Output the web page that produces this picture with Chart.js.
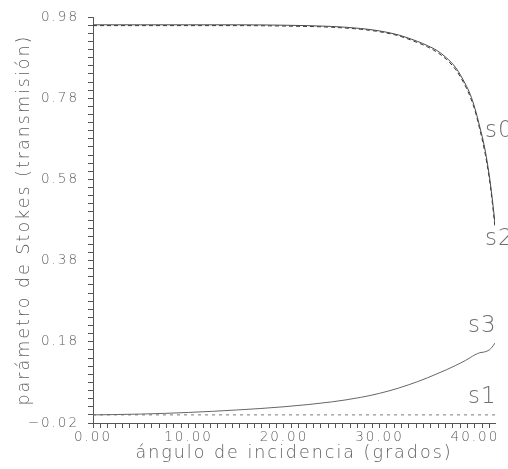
<!DOCTYPE html>
<html>
<head>
<meta charset="utf-8">
<script src="https://cdn.jsdelivr.net/npm/chart.js@4.4.1/dist/chart.umd.min.js"></script>
<style>
  html, body { margin: 0; padding: 0; background: #fff; }
  #wrap { width: 508px; height: 469px; }
</style>
</head>
<body>
<div id="wrap"><canvas id="stokesChart"></canvas></div>
<script>
// ángulo de incidencia (grados)
const angles = [0, 5, 10, 15, 20, 25, 28, 30, 32, 34, 35, 36, 37, 38, 39, 39.5, 40, 40.5, 41, 41.5, 41.8, 42.1];

// parámetros de Stokes en transmisión
const s0 = [0.961, 0.961, 0.961, 0.961, 0.960, 0.957, 0.952, 0.946, 0.936, 0.920, 0.910, 0.898, 0.880, 0.855, 0.815, 0.790, 0.755, 0.710, 0.660, 0.590, 0.535, 0.472];
const s2 = [0.959, 0.959, 0.959, 0.959, 0.958, 0.955, 0.950, 0.944, 0.934, 0.917, 0.907, 0.894, 0.876, 0.850, 0.810, 0.784, 0.750, 0.704, 0.652, 0.583, 0.527, 0.462];
const s1 = [0.000, 0.000, 0.000, 0.000, 0.000, 0.000, 0.000, 0.000, 0.000, 0.000, 0.000, 0.000, 0.000, 0.000, 0.000, 0.000, 0.000, 0.000, 0.000, 0.000, 0.000, 0.000];
const s3 = [0.000, 0.002, 0.006, 0.012, 0.020, 0.032, 0.043, 0.053, 0.066, 0.082, 0.091, 0.101, 0.111, 0.122, 0.134, 0.141, 0.148, 0.153, 0.155, 0.160, 0.167, 0.177];

// etiquetas de las curvas (en coordenadas de datos)
const curveNames = ['s0', 's2', 's3', 's1'];
const curveNameX = [41.05, 41.05, 39.27, 39.27];
const curveNameY = [0.70, 0.433, 0.22, 0.044];

const xMin = 0, xMax = 42.1;
const yMin = -0.02, yMax = 0.98;

const FONT = '"DejaVu Sans", sans-serif';
const TEXT_GRAY = '#5e5e5e';
const AXIS_GRAY = '#555';

function toPoints(values) {
    return angles.map((a, i) => ({ x: a, y: values[i] }));
}

// Espaciado de letras como en el original
const spacingPlugin = {
    id: 'spacing',
    beforeLayout(chart) { chart.ctx.letterSpacing = '2px'; },
    beforeDraw(chart) { chart.ctx.letterSpacing = '2px'; }
};

const curveNamePlugin = {
    id: 'curveNames',
    afterDatasetsDraw(chart) {
        const { ctx, scales: { x, y } } = chart;
        ctx.save();
        ctx.letterSpacing = '1px';
        ctx.font = '200 23px ' + FONT;
        ctx.fillStyle = '#707070';
        ctx.textAlign = 'left';
        ctx.textBaseline = 'middle';
        curveNames.forEach((name, i) => {
            ctx.fillText(name, x.getPixelForValue(curveNameX[i]), y.getPixelForValue(curveNameY[i]));
        });
        ctx.restore();
    }
};

const lineBase = {
    pointRadius: 0,
    borderWidth: 1,
    fill: false,
    cubicInterpolationMode: 'monotone'
};

new Chart(document.getElementById('stokesChart'), {
    type: 'line',
    data: {
        datasets: [
            Object.assign({ label: 's0', data: toPoints(s0), borderColor: '#4a4a4a' }, lineBase),
            Object.assign({ label: 's2', data: toPoints(s2), borderColor: '#333', borderDash: [4, 3] }, lineBase),
            Object.assign({ label: 's3', data: toPoints(s3), borderColor: '#666' }, lineBase),
            Object.assign({ label: 's1', data: toPoints(s1), borderColor: '#777', borderDash: [3, 4] }, lineBase)
        ]
    },
    options: {
        responsive: true,
        maintainAspectRatio: false,
        animation: false,
        layout: { padding: { top: 15, right: 13, left: 0, bottom: 0 } },
        plugins: {
            legend: { display: false },
            tooltip: { enabled: false }
        },
        scales: {
            x: {
                type: 'linear',
                min: xMin,
                max: xMax,
                border: { display: true, color: AXIS_GRAY },
                grid: { drawOnChartArea: false, drawTicks: true, tickLength: 5, color: AXIS_GRAY },
                afterBuildTicks(scale) {
                    const t = [];
                    for (let k = 0; k <= 54; k++) t.push({ value: k * 10 / 13 });
                    scale.ticks = t;
                },
                afterFit(scale) { scale.height = 46; },
                ticks: {
                    autoSkip: false,
                    maxRotation: 0,
                    padding: 1,
                    color: TEXT_GRAY,
                    font: { family: FONT, size: 13.5, weight: 200 },
                    callback: (v, i) => (i % 13 === 0 ? v.toFixed(2) : '')
                },
                title: {
                    display: true,
                    text: 'ángulo de incidencia (grados)',
                    color: TEXT_GRAY,
                    font: { family: FONT, size: 17.5, weight: 200 },
                    padding: { top: 0, bottom: 5 }
                }
            },
            y: {
                type: 'linear',
                min: yMin,
                max: yMax,
                border: { display: true, color: AXIS_GRAY },
                grid: { drawOnChartArea: false, drawTicks: true, tickLength: 5, color: AXIS_GRAY },
                afterFit(scale) { scale.width = 93; },
                ticks: {
                    stepSize: 0.02,
                    autoSkip: false,
                    padding: 9,
                    color: TEXT_GRAY,
                    font: { family: FONT, size: 13.5, weight: 200 },
                    callback: (v, i) => {
                        if (i % 10 !== 0) return '';
                        return v < 0 ? '\u2212' + Math.abs(v).toFixed(2) : v.toFixed(2);
                    }
                },
                title: {
                    display: true,
                    text: 'parámetro de Stokes (transmisión)',
                    color: TEXT_GRAY,
                    font: { family: FONT, size: 17.5, weight: 200 },
                    padding: { top: 14, bottom: 0 }
                }
            }
        }
    },
    plugins: [spacingPlugin, curveNamePlugin]
});
</script>
</body>
</html>
